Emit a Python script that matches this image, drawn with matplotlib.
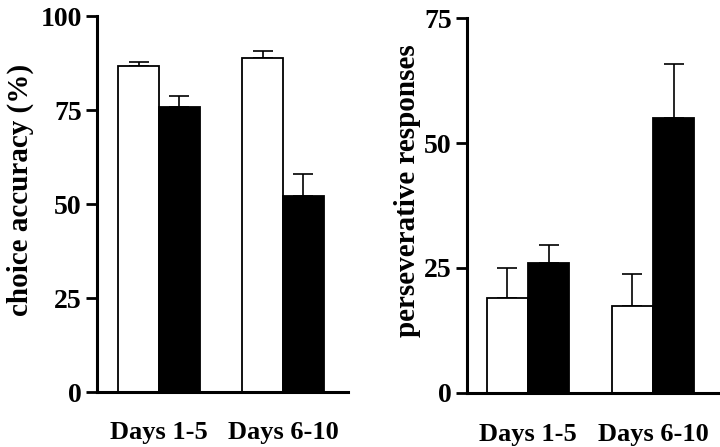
import matplotlib.pyplot as plt
import numpy as np

plt.rcParams['font.family'] = ['Liberation Serif', 'DejaVu Serif']
plt.rcParams['font.weight'] = 'bold'

groups = ["Days 1-5", "Days 6-10"]

# left panel: choice accuracy (%)
acc_white = [86.6, 88.8]
acc_white_err = [1.1, 1.9]
acc_black = [75.9, 52.1]
acc_black_err = [2.8, 5.9]

# right panel: perseverative responses
pers_white = [18.9, 17.4]
pers_white_err = [6.1, 6.3]
pers_black = [25.9, 55.0]
pers_black_err = [3.7, 10.9]

W, H = 720, 447
fig = plt.figure(figsize=(7.2, 4.47), dpi=100)

ax1 = fig.add_axes([97 / W, (H - 392) / H, 251 / W, 376 / H])
ax2 = fig.add_axes([467 / W, (H - 392.7) / H, 251 / W, 374.4 / H])

bw = 0.33
x = np.array([1, 2])


def panel(ax, white, werr, black, berr, ymax, yticks, xlim, xpad):
    ax.bar(x - bw / 2, white, bw, color='white', edgecolor='black', linewidth=1.3, zorder=2)
    ax.bar(x + bw / 2, black, bw, color='black', edgecolor='black', linewidth=1.3, zorder=2)
    ax.errorbar(x - bw / 2, white, yerr=[np.zeros(2), werr], fmt='none',
                ecolor='black', elinewidth=1.2, capsize=7, capthick=1.2, zorder=1)
    ax.errorbar(x + bw / 2, black, yerr=[np.zeros(2), berr], fmt='none',
                ecolor='black', elinewidth=1.2, capsize=7, capthick=1.2, zorder=1)
    ax.set_ylim(0, ymax)
    ax.set_xlim(*xlim)
    ax.set_yticks(yticks)
    ax.set_yticklabels([str(t) for t in yticks], fontsize=20, fontweight='bold')
    ax.set_xticks(x)
    ax.set_xticklabels(groups, fontsize=19, fontweight='bold')
    ax.tick_params(axis='x', length=0, pad=xpad)
    ax.tick_params(axis='y', direction='out', length=8, width=2, pad=3)
    for s in ['top', 'right']:
        ax.spines[s].set_visible(False)
    for s in ['left', 'bottom']:
        ax.spines[s].set_linewidth(2.2)


panel(ax1, acc_white, acc_white_err, acc_black, acc_black_err,
      100, [0, 25, 50, 75, 100], (0.5, 2.524), 21)
panel(ax2, pers_white, pers_white_err, pers_black, pers_black_err,
      75, [0, 25, 50, 75], (0.512, 2.52), 22)

fig.text(28 / W, (H - 190) / H, "choice accuracy (%)", rotation=90, fontsize=21,
         fontweight='bold', ha='center', va='baseline', rotation_mode='anchor')
fig.text(415 / W, (H - 191) / H, "perseverative responses", rotation=90, fontsize=21,
         fontweight='bold', ha='center', va='baseline', rotation_mode='anchor')

fig.savefig("out.png", dpi=100)
